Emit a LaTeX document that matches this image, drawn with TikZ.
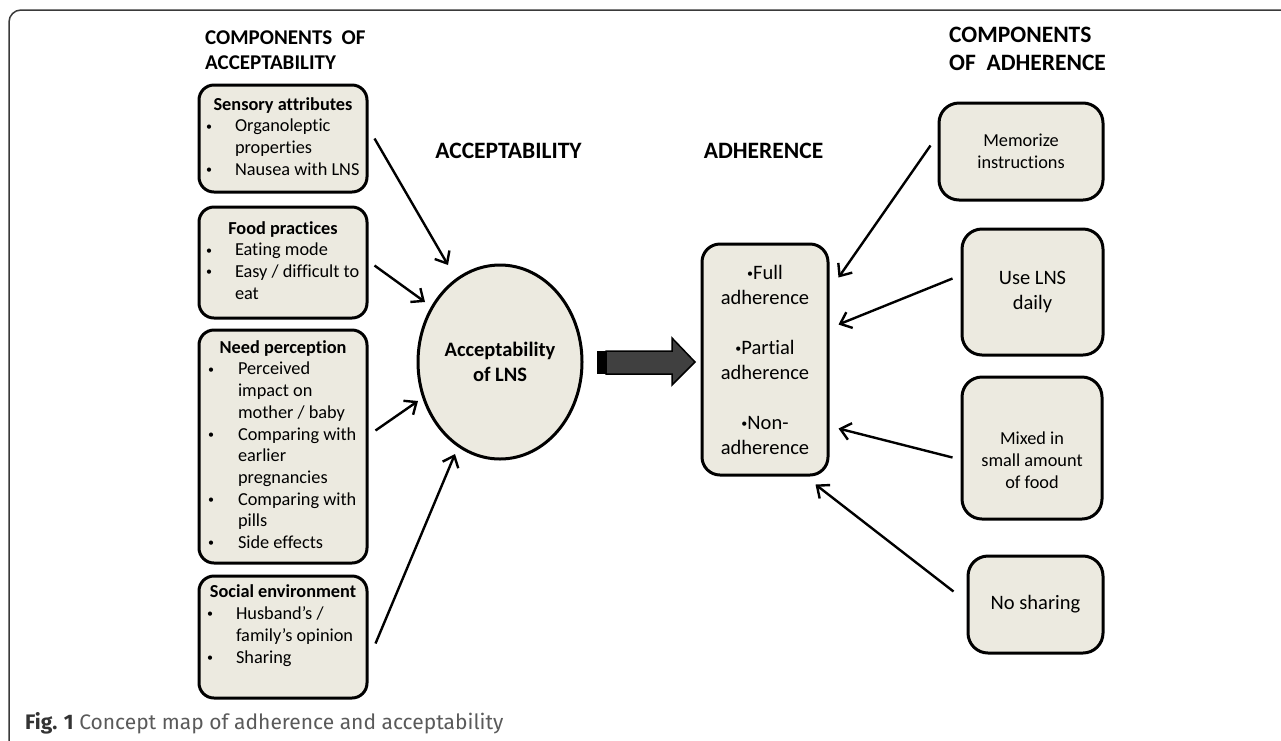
\documentclass[tikz,border=0pt]{standalone}
\usepackage{fontspec}
\setmainfont{Carlito}[Ligatures=NoCommon]
\newfontfamily\capfont{Fira Sans}
\usetikzlibrary{arrows.meta,calc,shapes.geometric}
\definecolor{boxfill}{HTML}{ECEAE0}
\definecolor{bigarrow}{HTML}{404040}
\definecolor{framecol}{HTML}{3A3A3A}
\definecolor{capgray}{HTML}{5A5A5A}
\definecolor{capdark}{HTML}{333333}
\newcommand{\sbul}{\raisebox{1.8pt}{\fontsize{12}{12}\selectfont\textbullet}}
\begin{document}
\begin{tikzpicture}[x=1pt,y=-1pt,
  cbox/.style={draw=black, line width=3pt, fill=boxfill, rounded corners=15pt, inner sep=0pt},
  lbox/.style={cbox, minimum width=168pt},
  rbox/.style={cbox, rounded corners=20pt, align=center},
  arr/.style={line width=2.4pt, -{Straight Barb[length=10pt,width=17pt,line width=2.4pt]}},
  lt/.style={font=\fontsize{18.3}{21.7}\selectfont},
  bt/.style={font=\fontsize{20.5}{25}\selectfont},
  ttl/.style={font=\fontsize{21}{25}\selectfont\bfseries, align=left, inner sep=0pt},
  ttlb/.style={font=\fontsize{23.5}{28}\selectfont\bfseries, align=left, inner sep=0pt},
]
\useasboundingbox (0,0) rectangle (1281,740);
\clip (0,0) rectangle (1281,740);
\fill[white] (0,0) rectangle (1281,740);
% frame
\draw[framecol, line width=1.5pt, rounded corners=12pt] (9,760) -- (9,10) -- (1300,10);

% titles
\node[ttl, anchor=west] (tl) at (205,50) {COMPONENTS\ \ OF\\ACCEPTABILITY};
\node[ttlb, anchor=west] (tr) at (949,49) {COMPONENTS\\OF\ \ ADHERENCE};
\node[ttlb] (tacc) at (508.5,151) {ACCEPTABILITY};
\node[ttlb] (tadh) at (763.5,151) {ADHERENCE};

% left boxes
\node[lbox, lt, minimum height=107pt] (s1) at (283,138.5) {%
\begin{tabular}{@{\hspace{7pt}}p{29pt}@{}p{132pt}@{}}
\multicolumn{2}{@{}c@{}}{\bfseries Sensory attributes}\\
\sbul & Organoleptic\\
 & properties\\
\sbul & Nausea with LNS
\end{tabular}};
\node[lbox, lt, minimum height=111pt] (s2) at (283,262.5) {%
\begin{tabular}{@{\hspace{7pt}}p{29pt}@{}p{132pt}@{}}
\multicolumn{2}{@{}c@{}}{\bfseries Food practices}\\
\sbul & Eating mode\\
\sbul & Easy / difficult to\\
 & eat
\end{tabular}};
\node[lbox, lt, minimum height=233pt] (s3) at (283,446.5) {%
\begin{tabular}{@{\hspace{9pt}}p{30pt}@{}p{129pt}@{}}
\multicolumn{2}{@{}c@{}}{\bfseries Need perception}\\
\sbul & Perceived\\
 & impact on\\
 & mother / baby\\
\sbul & Comparing with\\
 & earlier\\
 & pregnancies\\
\sbul & Comparing with\\
 & pills\\
\sbul & Side effects
\end{tabular}};
\node[lbox, lt, minimum height=122pt] (s4) at (283,637) {%
\begin{tabular}{@{\hspace{8pt}}p{29pt}@{}p{131pt}@{}}
\multicolumn{2}{@{}c@{}}{\bfseries Social environment}\\
\sbul & Husband’s /\\
 & family’s opinion\\
\sbul & Sharing\\
 &
\end{tabular}};

% central ellipse
\node[draw=black, line width=3pt, fill=boxfill, ellipse, inner sep=0pt,
      minimum width=164pt, minimum height=194pt, align=center,
      font=\fontsize{20.5}{25}\selectfont\bfseries] (acc) at (500,362) {Acceptability\\of LNS};

% adherence box
\node[cbox, rounded corners=18pt, bt, align=center, minimum width=126pt, minimum height=231pt] (adh) at (765,359.5)
  {\sbul Full\\adherence\\[25pt]\sbul Partial\\adherence\\[25pt]\sbul Non-\\adherence};

% big arrow
\fill[black] (597,351) rectangle (606,374);
\draw[fill=bigarrow, line width=1.5pt, line join=miter] (606,351) -- (672,351) -- (672,338) -- (695,362) -- (672,385) -- (672,374) -- (606,374) -- cycle;

% right boxes
\node[rbox, minimum width=164pt, minimum height=97pt, font=\fontsize{18.3}{22}\selectfont] (r1) at (1021,151.5) {Memorize\\instructions};
\node[rbox, minimum width=141pt, minimum height=126pt, font=\fontsize{20.5}{25}\selectfont] (r2) at (1032.5,292) {Use LNS\\daily};
\node[rbox, minimum width=140pt, minimum height=142pt] (r3) at (1032,448) {};
\node[font=\fontsize{18.3}{22}\selectfont, align=center, inner sep=0pt] (r3t) at ($(r3.center)+(0,12)$) {Mixed in\\small amount\\of food};
\node[rbox, minimum width=135pt, minimum height=97pt, font=\fontsize{20.5}{25}\selectfont] (r4) at (1035.5,604.5) {No sharing};

% left arrows
\draw[arr] ([shift={(6,55)}]s1.north east) -- ([shift={(-52,-97)}]acc.center);
\draw[arr] ([shift={(6,60)}]s2.north east) -- ([shift={(-75,-60)}]acc.center);
\draw[arr] ([shift={(7,102)}]s3.north east) -- ([shift={(-82,39)}]acc.center);
\draw[arr] ([shift={(7,69)}]s4.north east) -- ([shift={(-45,92)}]acc.center);

% right arrows
\draw[arr] ([shift={(-7,44)}]r1.north west) -- ([shift={(9,35)}]adh.north east);
\draw[arr] ([shift={(-8,51)}]r2.north west) -- ([shift={(9,82)}]adh.north east);
\draw[arr] ([shift={(-8,82)}]r3.north west) -- ([shift={(9,186)}]adh.north east);
\draw[arr] ([shift={(-13,37)}]r4.north west) -- ([shift={(-14,8)}]adh.south east);

% caption
\node[anchor=base west, inner sep=0pt, font=\capfont\fontsize{21}{25}\selectfont] (cap) at (25,729)
  {\textcolor{capdark}{\bfseries Fig. 1} \textcolor{capgray}{Concept map of adherence and acceptability}};
\end{tikzpicture}
\end{document}
